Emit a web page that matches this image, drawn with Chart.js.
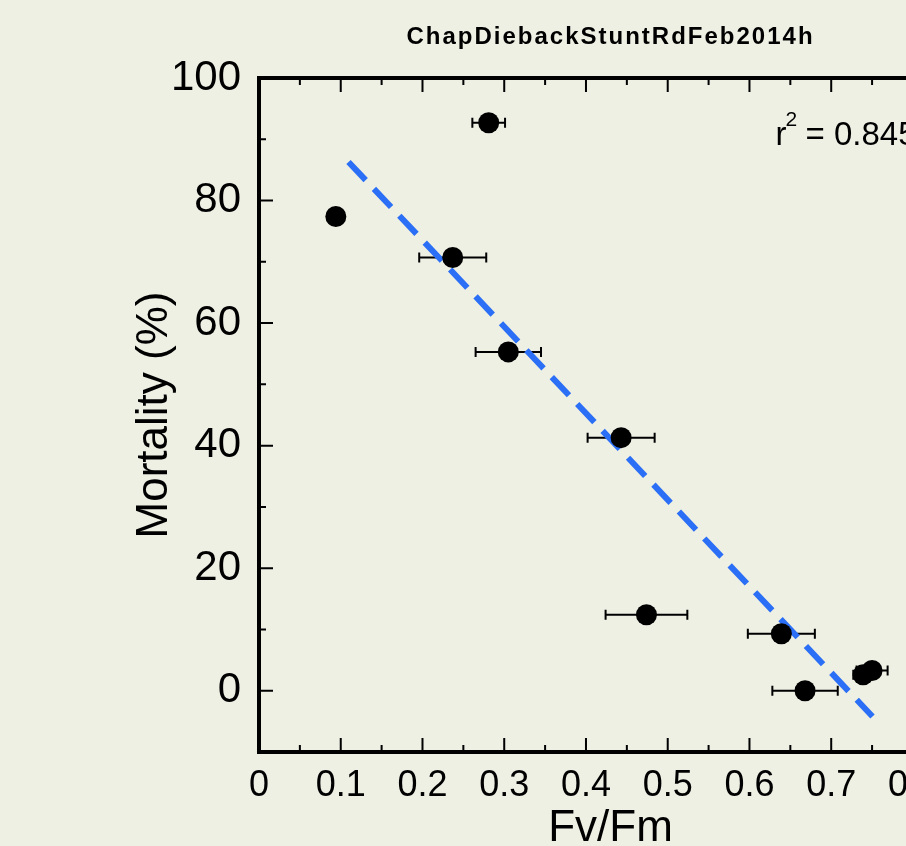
<!DOCTYPE html>
<html>
<head>
<meta charset="utf-8">
<script src="https://cdn.jsdelivr.net/npm/chart.js@4.4.1/dist/chart.umd.min.js"></script>
<style>
  html, body { margin: 0; padding: 0; overflow: hidden; background: #eef0e4; }
  #wrap { width: 1000px; height: 846px; }
</style>
</head>
<body>
<div id="wrap"><canvas id="myChart"></canvas></div>
<script>
// values
const fvfm      = [0.094, 0.281, 0.237, 0.305, 0.443, 0.474, 0.639, 0.668, 0.739, 0.750];
const fvfmErr   = [0.000, 0.020, 0.041, 0.040, 0.041, 0.050, 0.041, 0.040, 0.012, 0.019];
const mortality = [77.4, 92.7, 70.7, 55.3, 41.3, 12.4, 9.3, 0.0, 2.6, 3.3];

// dashed fit line end points
const fitX = [0.1095, 0.7505];
const fitY = [86.3, -4.2];

const xTicks = [0, 0.1, 0.2, 0.3, 0.4, 0.5, 0.6, 0.7, 0.8];
const yTicks = [0, 20, 40, 60, 80, 100];

const chartTitle = 'ChapDiebackStuntRdFeb2014h';
const r2Text = ' = 0.845';

const FONT = '"Liberation Sans", Arial, sans-serif';

// error bars, inward tick marks, top border, title and r2 label
const extras = {
  id: 'extras',
  beforeDraw(chart) {
    const ctx = chart.ctx;
    ctx.save();
    ctx.fillStyle = '#eef0e4';
    ctx.fillRect(0, 0, chart.width, chart.height);
    ctx.restore();
  },
  beforeDatasetsDraw(chart) {
    const ctx = chart.ctx;
    const x = chart.scales.x, y = chart.scales.y;
    ctx.save();
    ctx.strokeStyle = '#000';
    ctx.lineWidth = 2;
    fvfm.forEach((v, i) => {
      const e = fvfmErr[i];
      if (!e) return;
      const x0 = x.getPixelForValue(v - e), x1 = x.getPixelForValue(v + e);
      const py = y.getPixelForValue(mortality[i]);
      ctx.beginPath();
      ctx.moveTo(x0, py); ctx.lineTo(x1, py);
      ctx.moveTo(x0, py - 5); ctx.lineTo(x0, py + 5);
      ctx.moveTo(x1, py - 5); ctx.lineTo(x1, py + 5);
      ctx.stroke();
    });
    ctx.restore();
  },
  afterDraw(chart) {
    const ctx = chart.ctx;
    const x = chart.scales.x, y = chart.scales.y;
    const a = chart.chartArea;
    ctx.save();
    ctx.strokeStyle = '#000';
    // top border
    ctx.lineWidth = 4;
    ctx.beginPath();
    ctx.moveTo(a.left - 2, a.top); ctx.lineTo(a.right + 2, a.top);
    ctx.stroke();
    // x ticks (major + minor) top and bottom, pointing in
    ctx.lineWidth = 2;
    ctx.beginPath();
    for (let i = 0; i <= 17; i++) {
      const v = i * 0.05;
      const px = x.getPixelForValue(v);
      const len = i % 2 === 0 ? 14 : 7;
      ctx.moveTo(px, a.bottom); ctx.lineTo(px, a.bottom - len);
      ctx.moveTo(px, a.top); ctx.lineTo(px, a.top + len);
    }
    // y ticks on left
    for (let v = 0; v <= 90; v += 10) {
      const py = y.getPixelForValue(v);
      const len = v % 20 === 0 ? 14 : 7;
      ctx.moveTo(a.left, py); ctx.lineTo(a.left + len, py);
    }
    ctx.stroke();

    // title, centred on the plot area
    ctx.fillStyle = '#000';
    ctx.font = 'bold 24px ' + FONT;
    ctx.letterSpacing = '2px';
    ctx.textAlign = 'center';
    ctx.textBaseline = 'middle';
    ctx.fillText(chartTitle, (a.left + a.right) / 2, 37);
    ctx.letterSpacing = '0px';

    // r squared
    ctx.textAlign = 'left';
    ctx.textBaseline = 'alphabetic';
    const rx = x.getPixelForValue(0.632), ry = y.getPixelForValue(89.0);
    ctx.font = '33px ' + FONT;
    ctx.fillText('r', rx, ry);
    let w = ctx.measureText('r').width;
    ctx.font = '21px ' + FONT;
    ctx.fillText('2', rx + w - 1, ry - 19);
    w += ctx.measureText('2').width;
    ctx.font = '33px ' + FONT;
    ctx.fillText(r2Text, rx + w - 2, ry);
    ctx.restore();
  }
};

const ctx = document.getElementById('myChart').getContext('2d');

new Chart(ctx, {
  data: {
    datasets: [{
      type: 'line',
      data: fitX.map((v, i) => ({ x: v, y: fitY[i] })),
      borderColor: '#2a6ff5',
      borderWidth: 6,
      borderDash: [25, 12],
      borderCapStyle: 'butt',
      pointRadius: 0,
      fill: false,
      order: 2
    }, {
      type: 'scatter',
      data: fvfm.map((v, i) => ({ x: v, y: mortality[i] })),
      backgroundColor: '#000',
      borderWidth: 0,
      pointRadius: 10.5,
      pointHoverRadius: 10.5,
      order: 1
    }]
  },
  options: {
    responsive: true,
    maintainAspectRatio: false,
    animation: false,
    layout: { padding: { top: 78, right: 38, left: 0, bottom: 0 } },
    plugins: {
      legend: { display: false },
      tooltip: { enabled: false },
      title: { display: false }
    },
    scales: {
      x: {
        type: 'linear',
        min: 0,
        max: 0.86,
        afterBuildTicks: s => { s.ticks = xTicks.map(v => ({ value: v })); },
        afterFit: s => { s.height = 94; },
        grid: { display: false, drawTicks: false },
        border: { display: true, color: '#000', width: 4 },
        ticks: {
          color: '#000',
          font: { family: FONT, size: 36 },
          padding: 12,
          maxRotation: 0,
          autoSkip: false,
          callback: v => String(Math.round(v * 10) / 10)
        },
        title: {
          display: true,
          text: 'Fv/Fm',
          color: '#000',
          font: { family: FONT, size: 44, lineHeight: 0.78 },
          padding: 0
        }
      },
      y: {
        type: 'linear',
        min: -10,
        max: 100,
        afterBuildTicks: s => { s.ticks = yTicks.map(v => ({ value: v })); },
        afterFit: s => { s.width = 259; },
        grid: { display: false, drawTicks: false },
        border: { display: true, color: '#000', width: 4 },
        ticks: {
          color: '#000',
          font: { family: FONT, size: 42 },
          padding: 18,
          autoSkip: false
        },
        title: {
          display: true,
          text: 'Mortality (%)',
          color: '#000',
          font: { family: FONT, size: 44, lineHeight: 1 },
          padding: { top: 133, bottom: 0 }
        }
      }
    }
  },
  plugins: [extras]
});
</script>
</body>
</html>
